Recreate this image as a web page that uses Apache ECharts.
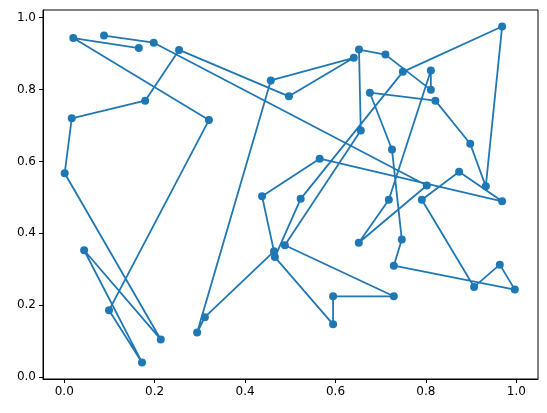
<!DOCTYPE html>
<html>
<head>
<meta charset="utf-8">
<script src="https://cdn.jsdelivr.net/npm/echarts@6/dist/echarts.min.js"></script>
<style>
  html, body { margin: 0; padding: 0; background: #fff; }
  #chart { width: 547px; height: 413px; }
</style>
</head>
<body>
<div id="chart"></div>
<script>
// points in the order the line visits them
const xValues = [
  0.165, 0.020, 0.320, 0.099, 0.172, 0.044, 0.2135, 0.001, 0.0166, 0.179,
  0.254, 0.497, 0.6405, 0.457, 0.294, 0.311, 0.464, 0.4376, 0.565, 0.9686,
  0.8735, 0.791, 0.9066, 0.9635, 0.9967, 0.729, 0.7467, 0.725, 0.676, 0.821,
  0.898, 0.9325, 0.9686, 0.749, 0.523, 0.466, 0.5947, 0.5947, 0.729, 0.488,
  0.656, 0.652, 0.7105, 0.811, 0.811, 0.718, 0.6515, 0.802, 0.198, 0.088
]
const yValues = [
  0.915, 0.943, 0.715, 0.186, 0.041, 0.353, 0.105, 0.567, 0.720, 0.769,
  0.910, 0.781, 0.888, 0.825, 0.124, 0.167, 0.350, 0.503, 0.6075, 0.489,
  0.571, 0.4936, 0.251, 0.313, 0.2436, 0.310, 0.383, 0.633, 0.791, 0.769,
  0.649, 0.5306, 0.975, 0.849, 0.496, 0.334, 0.147, 0.225, 0.225, 0.367,
  0.686, 0.911, 0.897, 0.799, 0.853, 0.4936, 0.374, 0.533, 0.930, 0.950
]
const tickValues = [0, 0.2, 0.4, 0.6, 0.8, 1.0]

const chart = echarts.init(document.getElementById('chart'))

const axisCommon = {
  type: 'value',
  axisLine: { show: true, onZero: false, lineStyle: { color: '#000', width: 1 } },
  axisTick: {
    show: true,
    inside: false,
    length: 4,
    customValues: tickValues,
    lineStyle: { color: '#000', width: 1 }
  },
  axisLabel: {
    color: '#000',
    fontSize: 12,
    fontFamily: 'DejaVu Sans',
    margin: 7,
    customValues: tickValues,
    formatter: v => v.toFixed(1)
  },
  splitLine: { show: false }
}

const option = {
  animation: false,
  backgroundColor: '#fff',
  grid: {
    left: 43,
    right: 9,
    top: 10,
    bottom: 34,
    show: true,
    borderColor: '#000',
    borderWidth: 1,
    backgroundColor: 'transparent'
  },
  xAxis: { ...axisCommon, min: -0.047, max: 1.048 },
  yAxis: { ...axisCommon, min: -0.005, max: 1.021 },
  series: [
    {
      type: 'line',
      data: xValues.map((x, i) => [x, yValues[i]]),
      symbol: 'circle',
      symbolSize: 8,
      showAllSymbol: true,
      color: '#1f77b4',
      lineStyle: { color: '#1f77b4', width: 1.8 },
      itemStyle: { color: '#1f77b4' }
    }
  ]
}

chart.setOption(option)
</script>
</body>
</html>
